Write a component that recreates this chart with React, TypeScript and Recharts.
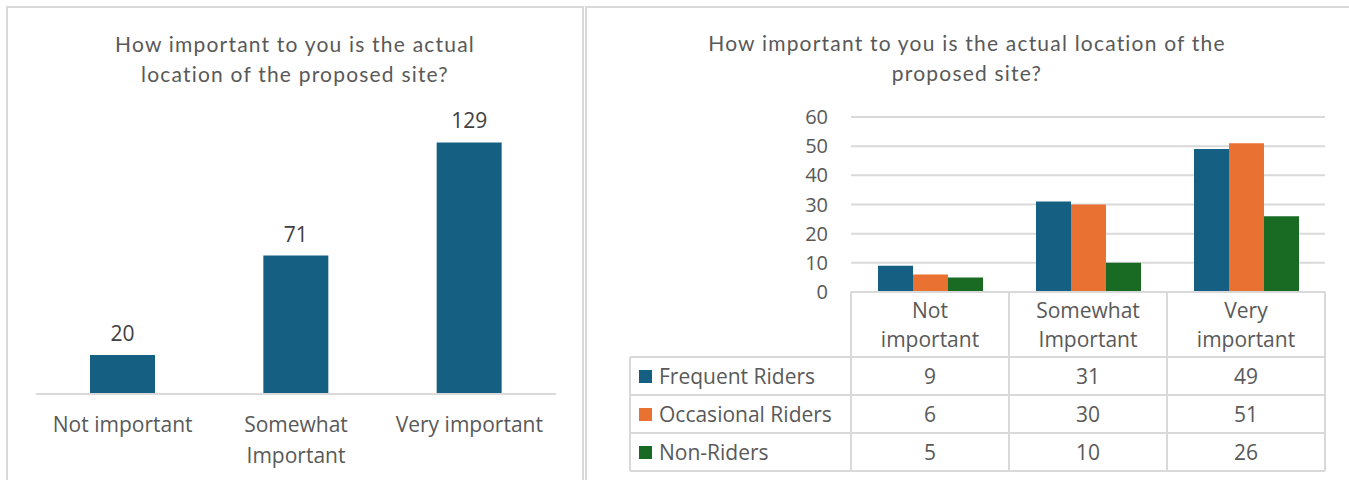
import React from "react";
import { BarChart, Bar, XAxis, YAxis, CartesianGrid, LabelList } from "recharts";

// Survey answers: "How important to you is the actual location of the proposed site?"
const CATEGORIES = ["Not important", "Somewhat Important", "Very important"];
const TOTALS = [20, 71, 129];
const LEFT_TICK_LINES = [["Not important"], ["Somewhat", "Important"], ["Very important"]];
const HEADER_LINES = [["Not", "important"], ["Somewhat", "Important"], ["Very", "important"]];

const SERIES_NAMES = ["Frequent Riders", "Occasional Riders", "Non-Riders"];
const FREQUENT = [9, 31, 49];
const OCCASIONAL = [6, 30, 51];
const NON_RIDERS = [5, 10, 26];
const Y_TICKS = [0, 10, 20, 30, 40, 50, 60];

const TITLE_LINES = ["How important to you is the actual", "location of the proposed site?"];
const RIGHT_TITLE_LINES = ["How important to you is the actual location of the", "proposed site?"];

const COLORS = ["#156082", "#E97132", "#196B24"];
const SERIES_KEYS = ["frequent", "occasional", "nonRiders"];
const SERIES_VALUES = [FREQUENT, OCCASIONAL, NON_RIDERS];

const totalData = CATEGORIES.map((c, i) => ({ category: c, total: TOTALS[i] }));
const groupData = CATEGORIES.map((c, i) => ({
  category: c,
  frequent: FREQUENT[i],
  occasional: OCCASIONAL[i],
  nonRiders: NON_RIDERS[i],
}));

const BORDER = "#d9d9d9";
const TEXT = "#595959";
const AXIS_FONT = "'Open Sans', 'Liberation Sans', sans-serif";
const AXIS_SIZE = 21;
const TITLE_FONT = "Lato, 'Noto Sans', sans-serif";

// left chart geometry
const L_W = 585;
const L_H = 480;
const L_MARGIN = { top: 121, right: 29, bottom: 56, left: 36 };

// right chart geometry
const R_W = 764;
const R_H = 480;
const R_MARGIN = { top: 117, right: 24, bottom: 158, left: 216 };
const R_YAXIS_W = 50;
const R_PLOT_W = R_W - R_MARGIN.left - R_MARGIN.right - R_YAXIS_W;
const BAND = R_PLOT_W / CATEGORIES.length;
const HEADER_H = 65;
const ROW_H = 38;
const LEGEND_W = 221;

const LeftTick = (props: any) => {
  const { x, y, payload } = props;
  const lines = LEFT_TICK_LINES[payload.index] || [payload.value];
  return (
    <g>
      {lines.map((ln: string, k: number) => (
        <text
          key={k}
          x={x}
          y={y + 38 + k * 31}
          textAnchor="middle"
          fill={TEXT}
          fontSize={AXIS_SIZE}
          fontFamily={AXIS_FONT}
        >
          {ln}
        </text>
      ))}
    </g>
  );
};

// Data table under the grouped chart: header cell per category plus one row per series
const TableTick = (props: any) => {
  const { x, y, payload } = props;
  const i = payload.index;
  const left = x - BAND / 2;
  const right = x + BAND / 2;
  const bottom = y + HEADER_H + ROW_H * SERIES_NAMES.length;
  const lines = HEADER_LINES[i] || [payload.value];
  const rowLeft = i === 0 ? left - LEGEND_W : left;
  const cellText = { fill: TEXT, fontSize: AXIS_SIZE, fontFamily: AXIS_FONT } as const;
  return (
    <g>
      {/* vertical cell borders */}
      <line x1={left} y1={y} x2={left} y2={bottom} stroke={BORDER} strokeWidth={2} />
      <line x1={right} y1={y} x2={right} y2={bottom} stroke={BORDER} strokeWidth={2} />
      {i === 0 && (
        <line x1={rowLeft} y1={y + HEADER_H} x2={rowLeft} y2={bottom} stroke={BORDER} strokeWidth={2} />
      )}
      {/* horizontal row borders */}
      {SERIES_NAMES.map((_, r) => (
        <line
          key={"h" + r}
          x1={rowLeft}
          y1={y + HEADER_H + r * ROW_H}
          x2={right}
          y2={y + HEADER_H + r * ROW_H}
          stroke={BORDER}
          strokeWidth={2}
        />
      ))}
      <line x1={rowLeft} y1={bottom} x2={right} y2={bottom} stroke={BORDER} strokeWidth={2} />
      {/* header text */}
      {lines.map((ln: string, k: number) => (
        <text key={"t" + k} x={x} y={y + 26 + k * 29} textAnchor="middle" {...cellText}>
          {ln}
        </text>
      ))}
      {/* values */}
      {SERIES_VALUES.map((vals, r) => (
        <text
          key={"v" + r}
          x={x}
          y={y + HEADER_H + r * ROW_H + ROW_H / 2 + 8}
          textAnchor="middle"
          {...cellText}
        >
          {vals[i]}
        </text>
      ))}
      {/* legend keys in the first column */}
      {i === 0 &&
        SERIES_NAMES.map((name, r) => {
          const cy = y + HEADER_H + r * ROW_H + ROW_H / 2;
          return (
            <g key={"l" + r}>
              <rect x={rowLeft + 9} y={cy - 6} width={13} height={13} fill={COLORS[r]} />
              <text x={rowLeft + 29} y={cy + 8} textAnchor="start" {...cellText}>
                {name}
              </text>
            </g>
          );
        })}
    </g>
  );
};

const Title = ({ lines, left, width, top }: { lines: string[]; left: number; width: number; top: number }) => (
  <div
    style={{
      position: "absolute",
      left,
      top,
      width,
      textAlign: "center",
      color: TEXT,
      fontFamily: TITLE_FONT,
      fontSize: 21,
      letterSpacing: "1.2px",
      lineHeight: "30px",
    }}
  >
    {lines.map((l, k) => (
      <div key={k}>{l}</div>
    ))}
  </div>
);

export default function App() {
  return (
    <div
      style={{
        position: "absolute",
        left: 0,
        top: 0,
        width: 1349,
        height: 480,
        overflow: "hidden",
        background: "#ffffff",
      }}
    >
      {/* panel frames */}
      <div
        style={{
          position: "absolute",
          left: 6,
          top: 6,
          width: 574,
          height: 500,
          border: `2px solid ${BORDER}`,
        }}
      />
      <div
        style={{
          position: "absolute",
          left: 585,
          top: 6,
          width: 800,
          height: 500,
          border: `2px solid ${BORDER}`,
        }}
      />

      <Title lines={TITLE_LINES} left={6} width={578} top={29} />
      <Title lines={RIGHT_TITLE_LINES} left={585} width={764} top={28} />

      <div style={{ position: "absolute", left: 0, top: 0 }}>
        <BarChart width={L_W} height={L_H} data={totalData} margin={L_MARGIN}>
          <YAxis hide domain={[0, 140]} />
          <XAxis
            dataKey="category"
            height={30}
            axisLine={{ stroke: BORDER, strokeWidth: 2 }}
            tickLine={false}
            tickSize={0}
            tickMargin={0}
            interval={0}
            tick={<LeftTick />}
          />
          <Bar dataKey="total" fill={COLORS[0]} barSize={65} isAnimationActive={false}>
            <LabelList
              dataKey="total"
              position="top"
              offset={14}
              fill="#404040"
              fontSize={AXIS_SIZE}
              fontFamily={AXIS_FONT}
            />
          </Bar>
        </BarChart>
      </div>

      <div style={{ position: "absolute", left: 585, top: 0 }}>
        <BarChart width={R_W} height={R_H} data={groupData} margin={R_MARGIN} barGap={0}>
          <CartesianGrid vertical={false} stroke={BORDER} strokeWidth={2} />
          <YAxis
            width={R_YAXIS_W}
            domain={[0, 60]}
            ticks={Y_TICKS}
            interval={0}
            axisLine={false}
            tickLine={false}
            tickSize={0}
            tickMargin={23}
            tick={{ fill: TEXT, fontSize: 20, fontFamily: AXIS_FONT }}
          />
          <XAxis
            dataKey="category"
            height={30}
            axisLine={{ stroke: BORDER, strokeWidth: 2 }}
            tickLine={false}
            tickSize={0}
            tickMargin={0}
            interval={0}
            tick={<TableTick />}
          />
          {SERIES_KEYS.map((k, s) => (
            <Bar
              key={k}
              dataKey={k}
              name={SERIES_NAMES[s]}
              fill={COLORS[s]}
              barSize={35}
              isAnimationActive={false}
            />
          ))}
        </BarChart>
      </div>
    </div>
  );
}
